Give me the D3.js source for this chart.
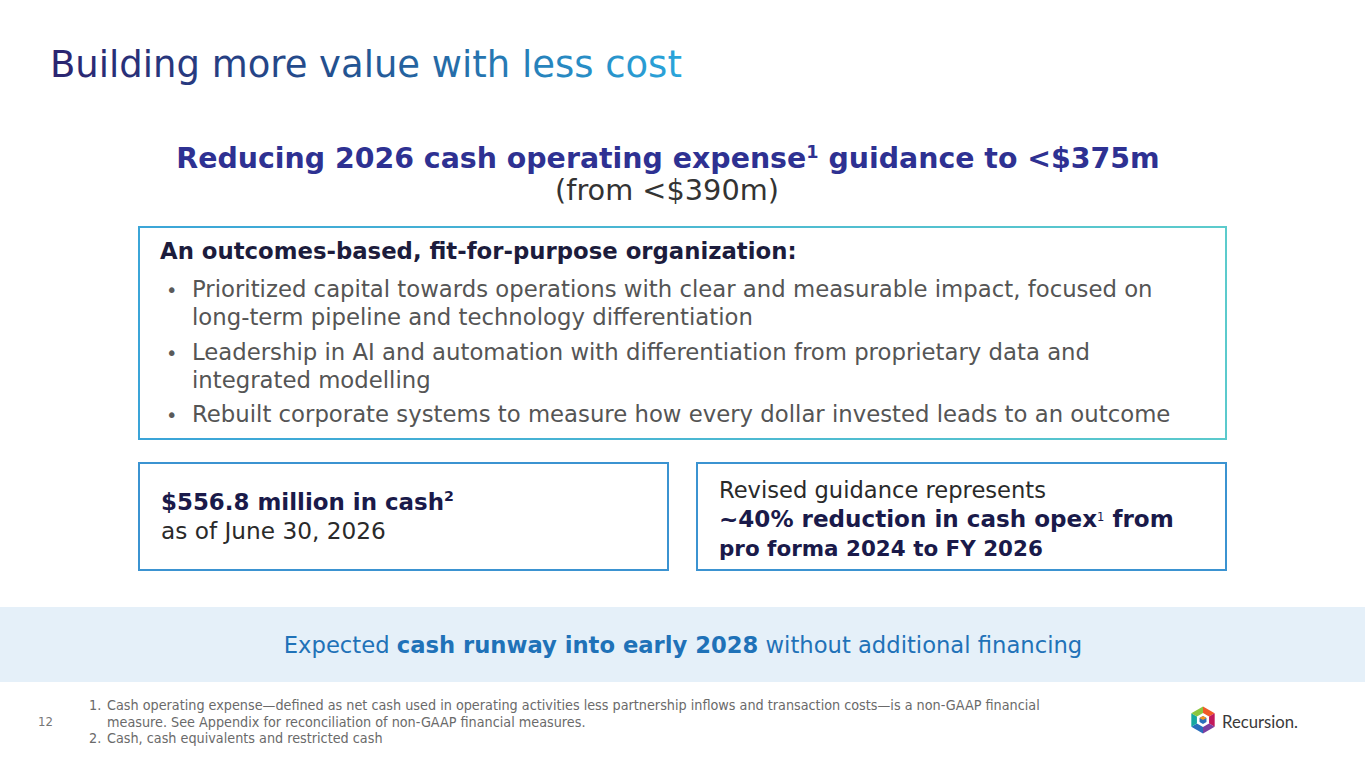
<!DOCTYPE html>
<html>
<head>
<meta charset="utf-8">
<script src="https://cdn.jsdelivr.net/npm/d3@7"></script>
<style>
  body { margin: 0; background: #fff; }
  svg { display: block; font-family: "DejaVu Sans", Verdana, sans-serif; }
</style>
</head>
<body>
<script>
const titleText = "Building more value with less cost";
const headlineParts = ["Reducing 2026 cash operating expense", "1", " guidance to <$375m"];
const headlineNote = "(from <$390m)";
const boxHeader = "An outcomes-based, fit-for-purpose organization:";
const bulletItems = [
    ["Prioritized capital towards operations with clear and measurable impact, focused on", "long-term pipeline and technology differentiation"],
    ["Leadership in AI and automation with differentiation from proprietary data and", "integrated modelling"],
    ["Rebuilt corporate systems to measure how every dollar invested leads to an outcome"]
];
const cashLines = ["$556.8 million in cash", "as of June 30, 2026"];
const guidanceLines = ["Revised guidance represents", "~40% reduction in cash opex", " from", "pro forma 2024 to FY 2026"];
const runwayParts = ["Expected ", "cash runway into early 2028", " without additional financing"];
const footnotes = [
    ["1.", "Cash operating expense\u2014defined as net cash used in operating activities less partnership inflows and transaction costs\u2014is a non-GAAP financial"],
    ["", "measure. See Appendix for reconciliation of non-GAAP financial measures."],
    ["2.", "Cash, cash equivalents and restricted cash"]
];
const pageNumber = "12";
const logoColors = ["#f7941d", "#f15a29", "#c2185b", "#7b3fa0", "#2a6ebb", "#16a8a0", "#8cc63f"];

document.addEventListener("DOMContentLoaded", () => {
    const width = 1365;
    const height = 768;
    const svg = d3.select("body")
        .append("svg")
        .attr("width", width)
        .attr("height", height);

    const defs = svg.append("defs");

    // scale a text's font size so it spans the width
    const fit = (sel, w) => {
        const cur = sel.node().getComputedTextLength();
        const fs = parseFloat(sel.attr("font-size"));
        sel.attr("font-size", fs * w / cur);
        return fs * w / cur;
    };

    const titleGrad = defs.append("linearGradient")
        .attr("id", "titleGrad")
        .attr("gradientUnits", "userSpaceOnUse")
        .attr("x1", 50).attr("x2", 682).attr("y1", 0).attr("y2", 0);
    titleGrad.append("stop").attr("offset", "0%").attr("stop-color", "#2b2470");
    titleGrad.append("stop").attr("offset", "45%").attr("stop-color", "#23508f");
    titleGrad.append("stop").attr("offset", "100%").attr("stop-color", "#2aa5db");

    const boxGrad = defs.append("linearGradient")
        .attr("id", "boxGrad")
        .attr("gradientUnits", "userSpaceOnUse")
        .attr("x1", 1226).attr("y1", 227).attr("x2", 139).attr("y2", 439);
    boxGrad.append("stop").attr("offset", "0%").attr("stop-color", "#5ccbcc");
    boxGrad.append("stop").attr("offset", "100%").attr("stop-color", "#3aa4d8");

    const title = svg.append("text")
        .attr("x", 50).attr("y", 77)
        .attr("font-size", 36)
        .attr("fill", "url(#titleGrad)")
        .text(titleText);
    fit(title, 632);

    // headline
    const head = svg.append("text")
        .attr("x", 668).attr("y", 168)
        .attr("text-anchor", "middle")
        .attr("font-size", 27)
        .attr("font-weight", "bold")
        .attr("fill", "#2e3192");
    head.append("tspan").text(headlineParts[0]);
    head.append("tspan").attr("font-size", "0.62em").attr("dy", -10).text(headlineParts[1]);
    head.append("tspan").attr("dy", 10).text(headlineParts[2]);
    fit(head, 984);

    const note = svg.append("text")
        .attr("x", 667).attr("y", 200)
        .attr("text-anchor", "middle")
        .attr("font-size", 24)
        .attr("fill", "#333333")
        .text(headlineNote);
    fit(note, 224);

    // outcomes box
    svg.append("rect")
        .attr("x", 139).attr("y", 227)
        .attr("width", 1087).attr("height", 212)
        .attr("fill", "#fff")
        .attr("stroke", "url(#boxGrad)")
        .attr("stroke-width", 2);

    const hdr = svg.append("text")
        .attr("x", 160).attr("y", 259)
        .attr("font-size", 19)
        .attr("font-weight", "bold")
        .attr("fill", "#1c1c3c")
        .text(boxHeader);
    fit(hdr, 637);

    const bulletStarts = [297, 360, 422];
    const lineGap = 28;
    const bulletG = svg.append("g");
    const probe = bulletG.append("text")
        .attr("font-size", 20)
        .text(bulletItems[0][0]);
    const bulletSize = fit(probe, 961);
    probe.remove();

    const bullets = bulletG.selectAll("g")
        .data(bulletItems)
        .enter()
        .append("g");

    bullets.append("text")
        .attr("x", 166)
        .attr("y", (d, i) => bulletStarts[i])
        .attr("font-size", bulletSize * 0.85)
        .attr("fill", "#5a5a5a")
        .text("\u2022");

    bullets.selectAll("text.line")
        .data((d, i) => d.map((line, j) => ({ line, y: bulletStarts[i] + j * lineGap })))
        .enter()
        .append("text")
        .attr("class", "line")
        .attr("x", 192)
        .attr("y", d => d.y)
        .attr("font-size", bulletSize)
        .attr("fill", "#555555")
        .text(d => d.line);

    // two lower boxes
    svg.selectAll("rect.small")
        .data([139, 697])
        .enter()
        .append("rect")
        .attr("class", "small")
        .attr("x", d => d).attr("y", 463)
        .attr("width", 529).attr("height", 107)
        .attr("fill", "#fff")
        .attr("stroke", "#3b93d1")
        .attr("stroke-width", 2);

    const cash = svg.append("text")
        .attr("x", 161).attr("y", 510)
        .attr("font-size", 20)
        .attr("font-weight", "bold")
        .attr("fill", "#1a1a4a");
    cash.append("tspan").text(cashLines[0]);
    cash.append("tspan").attr("font-size", "0.62em").attr("dy", -9).text("2");
    fit(cash, 293);

    const asOf = svg.append("text")
        .attr("x", 161).attr("y", 539)
        .attr("font-size", 20)
        .attr("fill", "#2a2a2a")
        .text(cashLines[1]);
    fit(asOf, 225);

    const rev = svg.append("text")
        .attr("x", 719).attr("y", 498)
        .attr("font-size", 20)
        .attr("fill", "#2a2a2a")
        .text(guidanceLines[0]);
    fit(rev, 327);

    const red = svg.append("text")
        .attr("x", 719).attr("y", 527)
        .attr("font-size", 20)
        .attr("font-weight", "bold")
        .attr("fill", "#1a1a4a");
    red.append("tspan").text(guidanceLines[1]);
    red.append("tspan").attr("font-size", "0.5em").attr("font-weight", "normal").attr("dy", -6).text("1");
    red.append("tspan").attr("dy", 6).text(guidanceLines[2]);
    fit(red, 455);

    const pro = svg.append("text")
        .attr("x", 719).attr("y", 556)
        .attr("font-size", 20)
        .attr("font-weight", "bold")
        .attr("fill", "#1a1a4a")
        .text(guidanceLines[3]);
    fit(pro, 324);

    // runway band
    svg.append("rect")
        .attr("x", 0).attr("y", 607)
        .attr("width", width).attr("height", 75)
        .attr("fill", "#e5f0f9");

    const run = svg.append("text")
        .attr("x", 683).attr("y", 653)
        .attr("text-anchor", "middle")
        .attr("font-size", 21)
        .attr("fill", "#1f72b8");
    run.selectAll("tspan")
        .data(runwayParts)
        .enter()
        .append("tspan")
        .attr("font-weight", (d, i) => i === 1 ? "bold" : "normal")
        .text(d => d);
    fit(run, 799);

    // footnotes
    const fnFont = "'DejaVu Sans Condensed', 'DejaVu Sans', sans-serif";
    const fnProbe = svg.append("text").attr("font-family", fnFont).attr("font-size", 12.5).text(footnotes[0][1]);
    const fnSize = fit(fnProbe, 934);
    fnProbe.remove();

    const fn = svg.append("g")
        .selectAll("g")
        .data(footnotes)
        .enter()
        .append("g")
        .attr("transform", (d, i) => `translate(0,${710 + i * 16.5})`);
    fn.append("text")
        .attr("x", 89)
        .attr("font-family", fnFont)
        .attr("font-size", fnSize)
        .attr("fill", "#6a6a6a")
        .text(d => d[0]);
    fn.append("text")
        .attr("x", 107)
        .attr("font-family", fnFont)
        .attr("font-size", fnSize)
        .attr("fill", "#6a6a6a")
        .text(d => d[1]);

    svg.append("text")
        .attr("x", 38).attr("y", 726)
        .attr("font-family", fnFont)
        .attr("font-size", 13)
        .attr("fill", "#777")
        .text(pageNumber);

    // logo
    const logo = svg.append("g").attr("transform", "translate(1203,720)");
    const r = 13.5;
    const hexPt = k => [r * Math.cos(Math.PI / 3 * k - Math.PI / 2), r * Math.sin(Math.PI / 3 * k - Math.PI / 2)];
    logo.selectAll("path")
        .data(d3.range(6))
        .enter()
        .append("path")
        .attr("d", k => `M0,0L${hexPt(k)}L${hexPt(k + 1)}Z`)
        .attr("fill", k => logoColors[(k + 1) % 7]);
    const inner = (rad) => d3.range(6).map(k => [rad * Math.cos(Math.PI / 3 * k - Math.PI / 2), rad * Math.sin(Math.PI / 3 * k - Math.PI / 2)]);
    logo.append("polygon")
        .attr("points", inner(7).join(" "))
        .attr("fill", "#fff");
    logo.append("polygon")
        .attr("points", inner(4).join(" "))
        .attr("fill", "#2a6ebb");
    logo.append("polygon")
        .attr("points", [[0, -4], [3.46, -2], [0, 0], [-3.46, -2]].join(" "))
        .attr("fill", "#f7941d");

    const brand = svg.append("text")
        .attr("x", 1222).attr("y", 728)
        .attr("font-family", "Lato, 'Open Sans', sans-serif")
        .attr("font-size", 20)
        .attr("fill", "#3a3a3a")
        .text("Recursion.");
    fit(brand, 76);
});
</script>
</body>
</html>
